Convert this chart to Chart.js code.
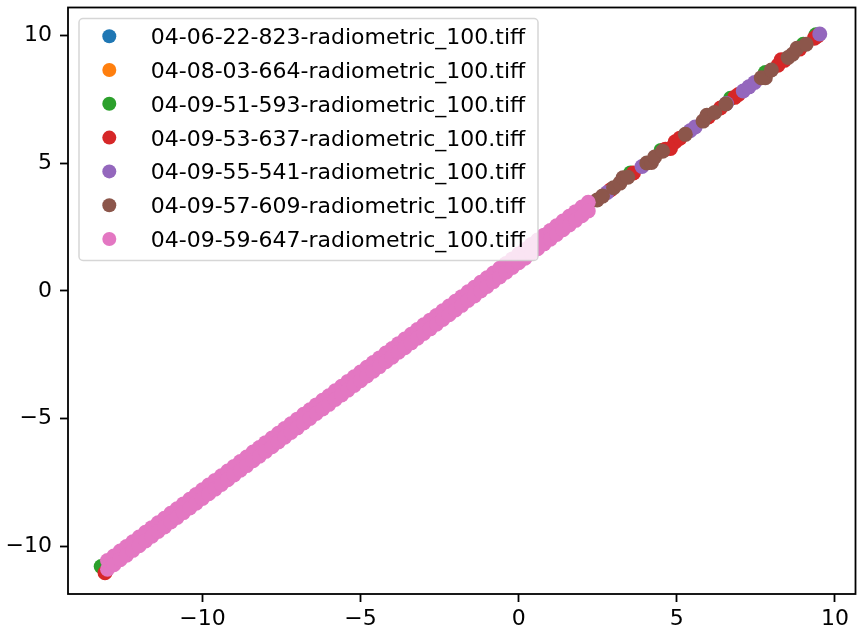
<!DOCTYPE html>
<html>
<head>
<meta charset="utf-8">
<script src="https://cdn.jsdelivr.net/npm/chart.js@4.4.0/dist/chart.umd.min.js"></script>
<style>
  html, body { margin: 0; padding: 0; background: #fff; }
  #wrap { width: 863px; height: 633px; }
</style>
</head>
<body>
<div id="wrap"><canvas id="chart" width="863" height="633"></canvas></div>
<script>
const seriesNames = [
    '04-06-22-823-radiometric_100.tiff',
    '04-08-03-664-radiometric_100.tiff',
    '04-09-51-593-radiometric_100.tiff',
    '04-09-53-637-radiometric_100.tiff',
    '04-09-55-541-radiometric_100.tiff',
    '04-09-57-609-radiometric_100.tiff',
    '04-09-59-647-radiometric_100.tiff'
];
const seriesColors = ['#1f77b4', '#ff7f0e', '#2ca02c', '#d62728', '#9467bd', '#8c564b', '#e377c2'];

const xTicks = [-10, -5, 0, 5, 10];
const yTicks = [-10, -5, 0, 5, 10];

const blueX = [-12.4, -9.1, -5.8, -2.5, 0.8];
const blueY = [-10.19, -7.14, -4.09, -1.04, 2.01];

const orangeX = [-11.7, -8.3, -4.6, -1.2, 1.6];
const orangeY = [-9.54, -6.40, -2.98, 0.16, 2.74];

const greenX = [-13.2, -10.2, -6.9, 3.54, 4.5, 6.7, 7.8, 9.0, 9.4];
const greenY = [-10.80, -8.15, -5.11, 4.62, 5.50, 7.54, 8.55, 9.66, 10.03];

const redX = [-13.08, -11.0, -3.4, 2.9, 3.63, 4.64, 4.8, 4.95, 5.1, 6.0, 6.38, 6.83, 6.95, 8.2, 8.3, 8.4, 8.88, 9.35, 9.45];
const redY = [-11.05, -8.89, -1.87, 3.95, 4.62, 5.55, 5.58, 5.84, 5.98, 6.81, 7.16, 7.58, 7.69, 8.84, 9.05, 9.03, 9.47, 9.90, 9.99];

const purpleX = [-7.5, -0.4, 2.8, 3.9, 5.42, 5.58, 6.57, 7.1, 7.28, 7.46, 9.52];
const purpleY = [-5.66, 0.90, 3.85, 4.87, 6.27, 6.42, 7.34, 7.83, 7.99, 8.16, 10.06];

const brownX = [-9.8, -1.9, 2.48, 2.65, 3.0, 3.2, 3.3, 3.45, 4.05, 4.2, 4.3, 4.55, 5.27, 5.83, 5.95, 6.2, 6.55, 7.67, 7.8, 7.99, 8.52, 8.66, 8.8, 9.09];
const brownY = [-7.78, -0.49, 3.56, 3.71, 4.04, 4.22, 4.43, 4.45, 5.01, 5.03, 5.24, 5.47, 6.13, 6.65, 6.88, 6.99, 7.32, 8.35, 8.35, 8.65, 9.14, 9.27, 9.50, 9.66];

// pink is a dense band: an upper and a lower edge row of points
const pinkX = [
    -13.0, -12.8, -12.6, -12.4, -12.2, -12.0, -11.8, -11.6, -11.4, -11.2,
    -11.0, -10.8, -10.6, -10.4, -10.2, -10.0, -9.8, -9.6, -9.4, -9.2,
    -9.0, -8.8, -8.6, -8.4, -8.2, -8.0, -7.8, -7.6, -7.4, -7.2,
    -7.0, -6.8, -6.6, -6.4, -6.2, -6.0, -5.8, -5.6, -5.4, -5.2,
    -5.0, -4.8, -4.6, -4.4, -4.2, -4.0, -3.8, -3.6, -3.4, -3.2,
    -3.0, -2.8, -2.6, -2.4, -2.2, -2.0, -1.8, -1.6, -1.4, -1.2,
    -1.0, -0.8, -0.6, -0.4, -0.2, 0.0, 0.2, 0.4, 0.6, 0.8,
    1.0, 1.2, 1.4, 1.6, 1.8, 2.0, 2.2
];
const pinkYUpper = [
    -10.57, -10.39, -10.20, -10.02, -9.83, -9.65, -9.46, -9.28, -9.09, -8.91,
    -8.72, -8.54, -8.35, -8.17, -7.98, -7.80, -7.61, -7.43, -7.25, -7.06,
    -6.88, -6.69, -6.51, -6.32, -6.14, -5.95, -5.77, -5.58, -5.40, -5.21,
    -5.03, -4.84, -4.66, -4.47, -4.29, -4.11, -3.92, -3.74, -3.55, -3.37,
    -3.18, -3.00, -2.81, -2.63, -2.44, -2.26, -2.07, -1.89, -1.70, -1.52,
    -1.33, -1.15, -0.97, -0.78, -0.60, -0.41, -0.23, -0.04, 0.14, 0.33,
    0.51, 0.70, 0.88, 1.07, 1.25, 1.44, 1.62, 1.81, 1.99, 2.18,
    2.36, 2.55, 2.73, 2.92, 3.10, 3.28, 3.47
];
const pinkYLower = [
    -10.91, -10.73, -10.54, -10.36, -10.17, -9.99, -9.80, -9.62, -9.43, -9.25,
    -9.06, -8.88, -8.69, -8.51, -8.32, -8.14, -7.95, -7.77, -7.59, -7.40,
    -7.22, -7.03, -6.85, -6.66, -6.48, -6.29, -6.11, -5.92, -5.74, -5.55,
    -5.37, -5.18, -5.00, -4.81, -4.63, -4.45, -4.26, -4.08, -3.89, -3.71,
    -3.52, -3.34, -3.15, -2.97, -2.78, -2.60, -2.41, -2.23, -2.04, -1.86,
    -1.67, -1.49, -1.31, -1.12, -0.94, -0.75, -0.57, -0.38, -0.20, -0.01,
    0.17, 0.36, 0.54, 0.73, 0.91, 1.10, 1.28, 1.47, 1.65, 1.84,
    2.02, 2.21, 2.39, 2.58, 2.76, 2.94, 3.13
];

const toPoints = (xs, ys) => xs.map((x, i) => ({ x: x, y: ys[i] }));

const seriesData = [
    toPoints(blueX, blueY),
    toPoints(orangeX, orangeY),
    toPoints(greenX, greenY),
    toPoints(redX, redY),
    toPoints(purpleX, purpleY),
    toPoints(brownX, brownY),
    toPoints(pinkX, pinkYUpper).concat(toPoints(pinkX, pinkYLower))
];

const DOT_R = 7.5;
const fmt = v => v < 0 ? '\u2212' + Math.abs(v) : String(v);

// frame on top of the points, legend box on top of everything (like matplotlib)
const frameAndLegend = {
    id: 'frameAndLegend',
    afterDatasetsDraw(chart) {
        const { ctx, chartArea: a } = chart;
        ctx.save();
        ctx.strokeStyle = '#000';
        ctx.lineWidth = 1.8;
        ctx.strokeRect(a.left, a.top, a.right - a.left, a.bottom - a.top);

        const bx = a.left + 11, by = a.top + 11, bw = 459, bh = 242;
        ctx.beginPath();
        ctx.roundRect(bx, by, bw, bh, 4);
        ctx.fillStyle = 'rgba(255,255,255,0.8)';
        ctx.fill();
        ctx.strokeStyle = 'rgba(204,204,204,0.8)';
        ctx.lineWidth = 1.5;
        ctx.stroke();

        ctx.font = '22px "DejaVu Sans"';
        ctx.textAlign = 'left';
        ctx.textBaseline = 'alphabetic';
        seriesNames.forEach((name, i) => {
            const cy = by + 17.7 + i * 33.8;
            ctx.beginPath();
            ctx.arc(bx + 30.3, cy, 7, 0, Math.PI * 2);
            ctx.fillStyle = seriesColors[i];
            ctx.fill();
            ctx.fillStyle = '#000';
            ctx.fillText(name, bx + 71.7, cy + 8);
        });
        ctx.restore();
    }
};

const axisCommon = {
    type: 'linear',
    border: { display: false },
    grid: { drawOnChartArea: false, drawTicks: true, tickLength: 8, tickWidth: 1.8, tickColor: '#000' },
};

new Chart(document.getElementById('chart'), {
    type: 'scatter',
    data: {
        datasets: seriesData.map((pts, i) => ({
            label: seriesNames[i],
            data: pts,
            order: seriesData.length - i,   // later series drawn on top
            backgroundColor: seriesColors[i],
            borderWidth: 0,
            pointRadius: DOT_R,
            pointHoverRadius: DOT_R
        }))
    },
    options: {
        responsive: false,
        animation: false,
        events: [],
        layout: { padding: { top: 4, right: 1, left: 0, bottom: 0 } },
        plugins: { legend: { display: false }, tooltip: { enabled: false } },
        scales: {
            x: {
                ...axisCommon,
                position: 'bottom',
                min: -14.25,
                max: 10.65,
                afterBuildTicks: s => { s.ticks = xTicks.map(v => ({ value: v })); },
                afterFit: s => { s.height = 39; s.paddingLeft = 0; s.paddingRight = 0; },
                ticks: { callback: v => fmt(v), color: '#000', font: { family: 'DejaVu Sans', size: 22 }, padding: 4, maxRotation: 0, autoSkip: false }
            },
            y: {
                ...axisCommon,
                position: 'left',
                min: -11.88,
                max: 11.1,
                afterBuildTicks: s => { s.ticks = yTicks.map(v => ({ value: v })); },
                afterFit: s => { s.width = 68; s.paddingTop = 0; s.paddingBottom = 0; },
                ticks: { callback: v => fmt(v), color: '#000', font: { family: 'DejaVu Sans', size: 22 }, padding: 8, autoSkip: false }
            }
        }
    },
    plugins: [frameAndLegend]
});
</script>
</body>
</html>
